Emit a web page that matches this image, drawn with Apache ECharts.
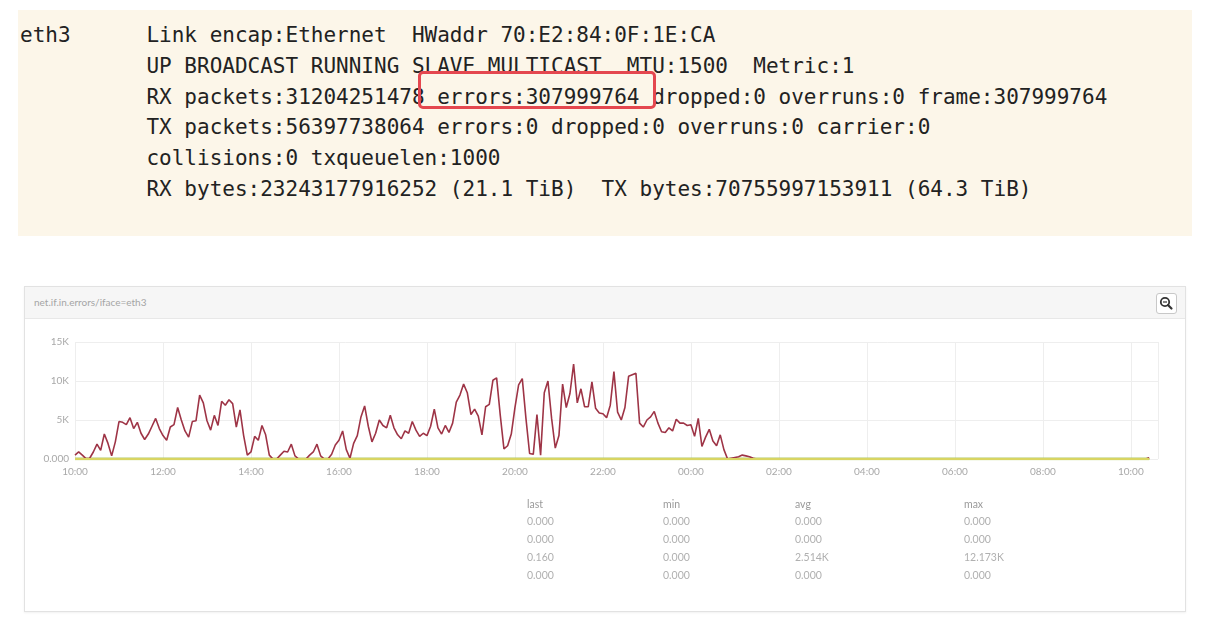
<!DOCTYPE html>
<html>
<head>
<meta charset="utf-8">
<title>net.if.in.errors/iface=eth3</title>
<script src="https://cdn.jsdelivr.net/npm/echarts@6/dist/echarts.min.js"></script>
<style>
  html, body { margin: 0; padding: 0; background: #fff; }
  body { width: 1213px; height: 624px; position: relative; overflow: hidden; font-family: Lato, "Open Sans", sans-serif; }
  #cli { position: absolute; left: 18px; top: 10px; width: 1174px; height: 226px; background: #fcf6e9; }
  #cli pre { margin: 0; padding: 10px 0 0 2px; font-family: "DejaVu Sans Mono", "Liberation Mono", monospace; font-size: 21px; line-height: 30.8px; color: #222; }
  #mark { position: absolute; left: 418px; top: 71px; width: 232px; height: 32px; border: 3px solid #e4474f; border-radius: 5px; }
  #panel { position: absolute; left: 24px; top: 286px; width: 1162px; height: 326px; box-sizing: border-box; border: 1px solid #e2e2e2; box-shadow: 0 1px 2px rgba(0,0,0,0.06); background: #fff; }
  #panel .head { height: 31px; background: #f6f6f6; border-bottom: 1px solid #e8e8e8; }
  #panel .title { position: absolute; left: 9px; top: 0; line-height: 31px; font-size: 10px; color: #a5a5a5; }
  #zoomBtn { position: absolute; left: 1131px; top: 6px; width: 19px; height: 19px; border: 1px solid #c8c8c8; border-radius: 3px; background: #fff; }
  #chart { position: absolute; left: 0; top: 0; width: 1213px; height: 624px; }
  #stats { position: absolute; left: 0; top: 0; font-size: 10.5px; color: #b0b0b0; }
  #stats span { position: absolute; white-space: nowrap; line-height: 14px; }
  #stats span.h { color: #9a9a9a; }
</style>
</head>
<body>
<div id="cli"><pre>eth3      Link encap:Ethernet  HWaddr 70:E2:84:0F:1E:CA
          UP BROADCAST RUNNING SLAVE MULTICAST  MTU:1500  Metric:1
          RX packets:31204251478 errors:307999764 dropped:0 overruns:0 frame:307999764
          TX packets:56397738064 errors:0 dropped:0 overruns:0 carrier:0
          collisions:0 txqueuelen:1000
          RX bytes:23243177916252 (21.1 TiB)  TX bytes:70755997153911 (64.3 TiB)</pre></div>
<div id="mark"></div>

<div id="panel">
  <div class="head"></div>
  <div class="title">net.if.in.errors/iface=eth3</div>
  <div id="zoomBtn">
    <svg width="19" height="19" viewBox="0 0 19 19">
      <circle cx="8" cy="8" r="4.2" fill="none" stroke="#333" stroke-width="1.8"/>
      <line x1="11" y1="11" x2="14.5" y2="14.5" stroke="#333" stroke-width="2.2" stroke-linecap="round"/>
      <line x1="6" y1="8" x2="10" y2="8" stroke="#333" stroke-width="1.2"/>
    </svg>
  </div>
</div>
<div id="chart"></div>
<div id="stats"></div>

<script>
// x: minutes after 10:00, one sample every 5 min
var stepMin = 5;
var axisMaxMin = 1477;   // right edge ~10:37 next day

// net.if.in.errors (in K)
var rxErrorsK = [
  0.5, 0.9, 0.5, 0.05, 0.1, 0.9, 1.9, 1.1, 3.2, 2.0, 0.4, 2.2,
  4.8, 4.7, 4.4, 5.3, 3.9, 4.7, 3.3, 2.5, 3.2, 4.2, 5.2, 3.9,
  3.0, 2.4, 4.1, 4.4, 6.6, 5.0, 3.6, 2.8, 4.8, 4.9, 8.2, 7.2,
  4.9, 3.7, 5.6, 4.3, 7.4, 6.9, 7.6, 7.1, 4.1, 6.3, 3.0, 0.5,
  0.9, 2.9, 2.4, 4.3, 3.1, 0.5, 0, 0, 0.5, 1.0, 0.9, 1.9,
  0.4, 0, 0, 0, 0.5, 0.9, 1.9, 0.4, 0, 0, 0.6, 1.8,
  2.4, 3.6, 1.2, 0.1, 2.0, 3.0, 5.4, 6.8, 4.2, 2.2, 3.3, 5.0,
  4.3, 4.0, 5.6, 4.0, 3.1, 2.6, 3.6, 3.3, 4.8, 3.7, 2.9, 3.3,
  3.0, 4.2, 6.4, 4.0, 3.2, 4.3, 3.4, 4.6, 7.3, 8.2, 9.6, 8.5,
  5.7, 6.4, 5.5, 3.1, 6.7, 7.0, 10.1, 10.4, 5.6, 1.3, 1.7, 3.2,
  6.6, 9.5, 10.3, 5.2, 0.7, 0.6, 5.7, 0.5, 8.5, 10.0, 5.2, 1.4,
  3.0, 9.6, 6.6, 8.4, 12.173, 7.2, 9.0, 6.7, 6.7, 9.9, 6.5, 5.9,
  5.8, 5.3, 6.9, 11.2, 6.0, 5.0, 6.6, 10.6, 10.8, 11.0, 4.6, 4.1,
  5.0, 5.4, 6.1, 4.6, 3.5, 3.4, 4.0, 3.6, 5.1, 4.6, 4.6, 4.3,
  4.4, 2.9, 5.2, 1.6, 2.8, 3.8, 2.3, 1.7, 3.1, 1.2, 0, 0.1,
  0.2, 0.3, 0.5, 0.4, 0.3, 0.1, 0, 0, 0, 0, 0, 0,
  0, 0, 0, 0, 0, 0, 0, 0, 0, 0, 0, 0, 0, 0, 0, 0, 0, 0, 0, 0, 0, 0, 0, 0,
  0, 0, 0, 0, 0, 0, 0, 0, 0, 0, 0, 0, 0, 0, 0, 0, 0, 0, 0, 0, 0, 0, 0, 0,
  0, 0, 0, 0, 0, 0, 0, 0, 0, 0, 0, 0, 0, 0, 0, 0, 0, 0, 0, 0, 0, 0, 0, 0,
  0, 0, 0, 0, 0, 0, 0, 0, 0, 0, 0, 0, 0, 0, 0, 0, 0, 0, 0, 0, 0, 0, 0, 0,
  0, 0, 0, 0, 0, 0.16
];

// the other three counters stay flat at zero over the same window
var flatTimes = [0, 1465];
var flatValues = [0, 0];

var yTicksK = [0, 5, 10, 15];

// legend table under the graph
var statCols = ['last', 'min', 'avg', 'max'];
var statColX = [527, 663, 795, 964];
var statRows = [
  ['0.000', '0.000', '0.000', '0.000'],
  ['0.000', '0.000', '0.000', '0.000'],
  ['0.160', '0.000', '2.514K', '12.173K'],
  ['0.000', '0.000', '0.000', '0.000']
];

var errPoints = [];
for (var i = 0; i < rxErrorsK.length; i++) {
  errPoints.push([i * stepMin, rxErrorsK[i]]);
}
var flatPoints = [];
for (var j = 0; j < flatTimes.length; j++) {
  flatPoints.push([flatTimes[j], flatValues[j]]);
}

function hourLabel(m) {
  var h = (10 + Math.round(m / 60)) % 24;
  return (h < 10 ? '0' : '') + h + ':00';
}

var myChart = echarts.init(document.getElementById('chart'));
var lineBase = { type: 'line', showSymbol: false, symbol: 'none', animation: false, silent: true };

var option = {
  animation: false,
  grid: { left: 75, right: 55, top: 342, bottom: 165 },
  xAxis: {
    type: 'value',
    min: 0,
    max: axisMaxMin,
    interval: 120,
    axisLine: { show: false },
    axisTick: { show: false },
    splitLine: { show: true, lineStyle: { color: '#eeeeee', width: 1 } },
    axisLabel: {
      color: '#a8a8a8',
      fontSize: 10,
      fontFamily: 'Lato',
      margin: 8,
      showMaxLabel: false,
      formatter: hourLabel
    }
  },
  yAxis: {
    type: 'value',
    min: yTicksK[0],
    max: yTicksK[yTicksK.length - 1],
    interval: 5,
    axisLine: { show: false },
    axisTick: { show: false },
    splitLine: { lineStyle: { color: '#eeeeee', width: 1 } },
    axisLabel: {
      color: '#a8a8a8',
      fontSize: 10,
      fontFamily: 'Lato',
      margin: 6,
      formatter: function (v) { return v === 0 ? '0.000' : v + 'K'; }
    }
  },
  series: [
    Object.assign({}, lineBase, { name: 'flat1', data: flatPoints, lineStyle: { color: '#a9c45e', width: 2.4 } }),
    Object.assign({}, lineBase, { name: 'flat2', data: flatPoints, lineStyle: { color: '#a9c45e', width: 2.4 } }),
    Object.assign({}, lineBase, { name: 'eth3 in errors', data: errPoints, lineStyle: { color: '#9e3446', width: 1.6 } }),
    Object.assign({}, lineBase, { name: 'flat4', data: flatPoints, lineStyle: { color: '#d9d562', width: 2 } })
  ]
};
myChart.setOption(option);

// stats table
var stats = document.getElementById('stats');
function addCell(txt, x, y, cls) {
  var s = document.createElement('span');
  s.textContent = txt;
  s.style.left = x + 'px';
  s.style.top = (y - 7) + 'px';
  if (cls) s.className = cls;
  stats.appendChild(s);
}
for (var c = 0; c < statCols.length; c++) {
  addCell(statCols[c], statColX[c], 504, 'h');
  for (var r = 0; r < statRows.length; r++) {
    addCell(statRows[r][c], statColX[c], 521 + r * 18);
  }
}
</script>
</body>
</html>
